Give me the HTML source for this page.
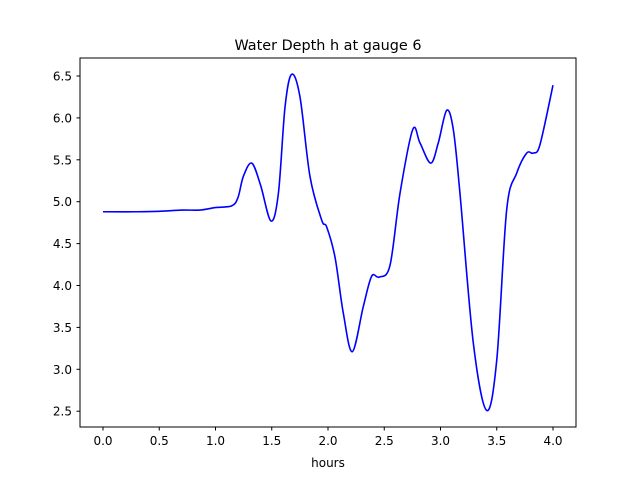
<!DOCTYPE html>
<html><head><meta charset="utf-8"><style>
body{margin:0;background:#fff;}
svg text{font-family:"DejaVu Sans","Liberation Sans",sans-serif;fill:#000;}
</style></head><body>
<svg id="chart" width="640" height="480" xmlns="http://www.w3.org/2000/svg">
<rect width="640" height="480" fill="#fff"/>
<text x="328" y="50" font-size="14.4" text-anchor="middle">Water Depth h at gauge 6</text>
<g id="ticks"></g>
<path id="line" fill="none" stroke="#0000ff" stroke-width="1.6"/>
<rect x="80" y="58" width="496" height="369" fill="none" stroke="#000" stroke-width="1"/>
<text x="328" y="467" font-size="12" text-anchor="middle">hours</text>
</svg>
<script>
const hours=[0,0.3,0.5,0.7,0.86,1.0,1.144,1.2,1.247,1.322,1.4,1.493,1.559,1.618,1.677,1.751,1.84,1.944,1.988,2.062,2.136,2.216,2.314,2.388,2.456,2.551,2.64,2.753,2.818,2.913,2.98,3.055,3.114,3.173,3.292,3.41,3.5,3.588,3.677,3.766,3.825,3.884,4.0];
const depth=[4.88,4.88,4.885,4.9,4.9,4.93,4.95,5.05,5.30,5.46,5.2,4.77,5.10,6.13,6.52,6.25,5.30,4.78,4.70,4.34,3.67,3.21,3.75,4.11,4.10,4.24,5.10,5.86,5.70,5.46,5.70,6.09,5.86,5.10,3.31,2.51,3.11,4.90,5.34,5.58,5.58,5.68,6.39];
const xTicks=[0,0.5,1,1.5,2,2.5,3,3.5,4];
const xLabels=["0.0","0.5","1.0","1.5","2.0","2.5","3.0","3.5","4.0"];
const yTicks=[2.5,3,3.5,4,4.5,5,5.5,6,6.5];
const yLabels=["2.5","3.0","3.5","4.0","4.5","5.0","5.5","6.0","6.5"];
const X=v=>103+v*112.5;
const Y=v=>76+(6.5-v)*83.8;
const NS="http://www.w3.org/2000/svg";
const g=document.getElementById('ticks');
function mk(tag,attrs){const e=document.createElementNS(NS,tag);for(const k in attrs)e.setAttribute(k,attrs[k]);return e;}
xTicks.forEach((t,i)=>{
 const l=mk('line',{x1:X(t),x2:X(t),y1:427,y2:430.5,stroke:'#000'});
 
 
 g.appendChild(l);
 const tx=mk('text',{x:X(t),y:445,'font-size':'12','text-anchor':'middle'});
 
 
 tx.textContent=xLabels[i];g.appendChild(tx);
});
yTicks.forEach((t,i)=>{
 const l=mk('line',{x1:76.5,x2:80,y1:Y(t),y2:Y(t),stroke:'#000'});
 
 
 g.appendChild(l);
 const tx=mk('text',{x:72,y:Y(t)+4.5,'font-size':'12','text-anchor':'end'});
 
 
 tx.textContent=yLabels[i];g.appendChild(tx);
});
const P=hours.map((h,i)=>[X(h),Y(depth[i])]);
let d='M'+P[0][0]+','+P[0][1];
for(let i=0;i<P.length-1;i++){
 const p0=P[Math.max(0,i-1)],p1=P[i],p2=P[i+1],p3=P[Math.min(P.length-1,i+2)];
 const c1=[p1[0]+(p2[0]-p0[0])/6,p1[1]+(p2[1]-p0[1])/6];
 const c2=[p2[0]-(p3[0]-p1[0])/6,p2[1]-(p3[1]-p1[1])/6];
 d+=` C${c1[0]},${c1[1]} ${c2[0]},${c2[1]} ${p2[0]},${p2[1]}`;
}
document.getElementById('line').setAttribute('d',d);
</script>
</body></html>
